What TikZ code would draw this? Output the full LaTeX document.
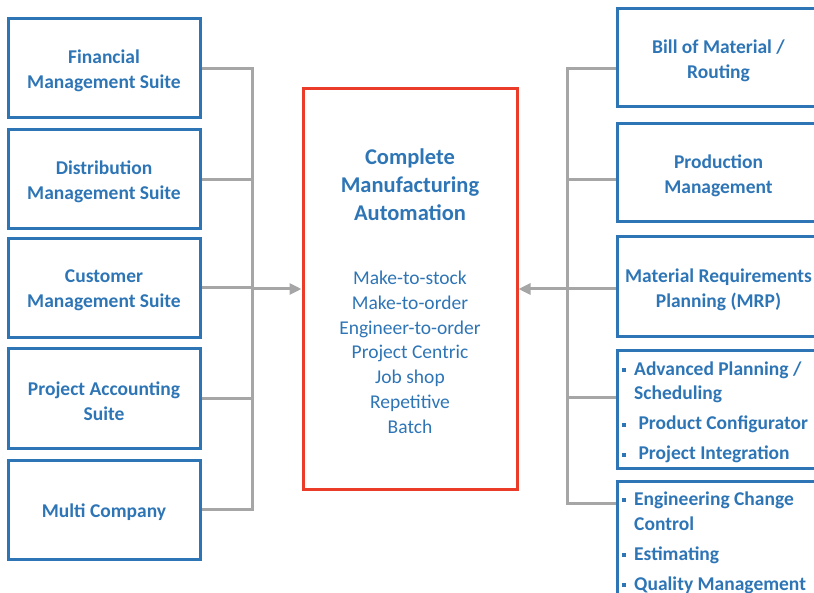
\documentclass[tikz,border=0pt]{standalone}
\usepackage{fontspec}
\setmainfont{Carlito}
\usetikzlibrary{arrows.meta}
\definecolor{bblue}{RGB}{46,117,182}
\definecolor{lgray}{RGB}{166,166,166}
\definecolor{rred}{RGB}{234,60,40}
\newcommand{\bul}{\makebox[0pt][r]{\rule[3pt]{4pt}{4pt}\hspace{8pt}}}
\begin{document}
\begin{tikzpicture}[x=1pt,y=-1pt,
  box/.style={draw=bblue, line width=3pt, inner sep=0pt},
  bt/.style={text=bblue, align=center, inner sep=0pt, yshift=-2.5pt,
    font=\bfseries\fontsize{19.5}{25}\selectfont},
  lbox/.style={box, minimum width=192pt, minimum height=99pt},
  rbox/.style={box, minimum width=203pt},
  conn/.style={draw=lgray, line width=3pt},
  arr/.style={conn, -{Triangle[length=12pt,width=11pt]}},
  btxt/.style={text=bblue, align=left, inner sep=0pt, anchor=base west,
    font=\bfseries\fontsize{19.5}{25}\selectfont}
]
\useasboundingbox (0,0) rectangle (814,593);
\clip (0,0) rectangle (814,593);

% left boxes
\node[lbox, label={[bt]center:Financial\\Management Suite}] (l1) at (104,68.5) {};
\node[lbox, label={[bt]center:Distribution\\Management Suite}] (l2) at (104,179.5) {};
\node[lbox, label={[bt]center:Customer\\Management Suite}] (l3) at (104,288) {};
\node[lbox, label={[bt]center:Project Accounting\\Suite}] (l4) at (104,398.5) {};
\node[lbox, label={[bt]center:Multi Company}] (l5) at (104,509.5) {};

% center box
\node[draw=rred, line width=3pt, minimum width=214pt, minimum height=400pt, inner sep=0pt] (cm) at (410,289) {};
\node[text=bblue, align=center, font=\bfseries\fontsize{22.5}{28}\selectfont, anchor=base] (ttl) at (410,221)
  {Complete\\Manufacturing\\Automation};
\node[text=bblue, align=center, font=\fontsize{19.5}{24.7}\selectfont, anchor=base] (lst) at (410,433)
  {Make-to-stock\\Make-to-order\\Engineer-to-order\\Project Centric\\Job shop\\Repetitive\\Batch};

% right boxes
\node[rbox, minimum height=98pt, label={[bt]center:Bill of Material /\\Routing}] (r1) at (718.5,58) {};
\node[rbox, minimum height=98pt, label={[bt]center:Production\\Management}] (r2) at (718.5,173) {};
\node[rbox, minimum height=100pt, label={[bt]center:Material Requirements\\Planning (MRP)}] (r3) at (718.5,287) {};
\node[rbox, minimum height=117pt] (r4) at (718.5,409.5) {};
\node[rbox, minimum height=117pt] (r5) at (718.5,539.5) {};
\node[btxt] (t4) at (634,460) {\bul Advanced Planning /\\Scheduling\\[5pt]\bul\ Product Configurator\\[5pt]\bul\ Project Integration};
\node[btxt] (t5) at (634,590) {\bul Engineering Change\\Control\\[5pt]\bul Estimating\\[5pt]\bul Quality Management};

% left connectors
\coordinate (lv) at (252,0);
\draw[conn] (l1.east) -- (l1.east -| lv) -- (l5.east -| lv) -- (l5.east);
\draw[conn] (l2.east) -- (l2.east -| lv);
\draw[conn] (l4.east) -- (l4.east -| lv);
\draw[conn] (l3.east) -- (l3.east -| lv);
\draw[arr] (lv |- cm.west) -- (cm.west);

% right connectors
\coordinate (rv) at (567,0);
\coordinate (y1) at (0,69);
\coordinate (y2) at (0,180);
\coordinate (y3) at (0,289);
\coordinate (y4) at (0,398);
\coordinate (y5) at (0,503);
\draw[conn] (r1.west |- y1) -- (rv |- y1) -- (rv |- y5) -- (r5.west |- y5);
\draw[conn] (r2.west |- y2) -- (rv |- y2);
\draw[conn] (r3.west |- y3) -- (rv |- y3);
\draw[conn] (r4.west |- y4) -- (rv |- y4);
\draw[arr] (rv |- cm.east) -- (cm.east);
\end{tikzpicture}
\end{document}
